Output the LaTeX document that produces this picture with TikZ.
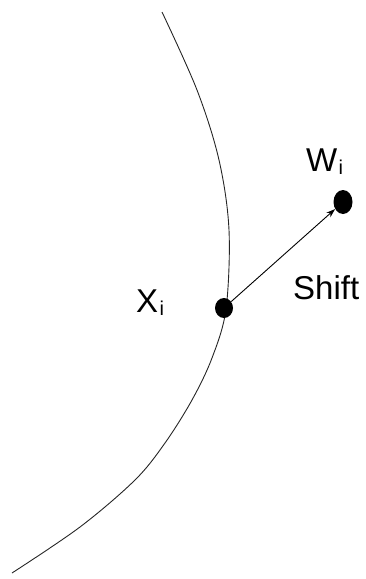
\documentclass[tikz,border=0pt]{standalone}
\usepackage{fontspec}
\setmainfont{Liberation Sans}
\usetikzlibrary{shapes.geometric,arrows.meta}
\begin{document}
\begin{tikzpicture}[x=1pt,y=-1pt,
  dotnode/.style={ellipse,fill=black,inner sep=0pt},
  lbl/.style={anchor=base west,inner sep=0pt,font=\fontsize{33}{38}\selectfont},
  sublbl/.style={anchor=base west,inner sep=0pt,font=\fontsize{20}{24}\selectfont},
  curveline/.style={line width=0.9pt,draw=black!85},
  shiftarrow/.style={line width=0.9pt,-{Stealth[length=9pt,width=6pt]}}]
\useasboundingbox (0,0) rectangle (366,579);
\draw[curveline] plot[smooth,tension=0.55] coordinates {(162,12) (197,90) (219,160) (229,230) (226,309) (212,358) (192,400) (165,443) (135,480) (80,527) (12,573)};
\node[dotnode,minimum width=18pt,minimum height=20pt] (xi) at (224,308) {};
\node[dotnode,minimum width=19pt,minimum height=24pt] (wi) at (343,202) {};
\draw[shiftarrow] (xi) -- (wi);
\node[lbl] (wl) at (306,171) {W};
\node[sublbl] (wsub) at ([xshift=1pt,yshift=-3pt]wl.base east) {i};
\node[lbl] (xl) at (136,312) {X};
\node[sublbl] (xsub) at ([xshift=1pt,yshift=-3pt]xl.base east) {i};
\node[lbl] (shift) at (293,299) {Shift};
\end{tikzpicture}
\end{document}
